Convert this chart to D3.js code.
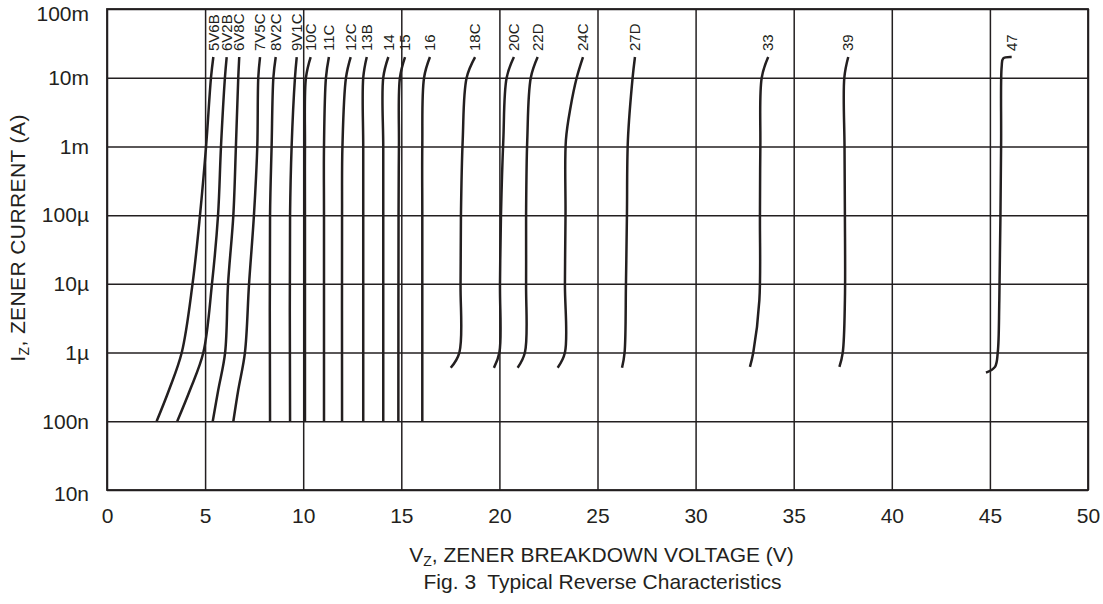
<!DOCTYPE html>
<html><head><meta charset="utf-8">
<script src="https://cdn.jsdelivr.net/npm/d3@7"></script>
<style>
html,body{margin:0;padding:0;background:#fff;}
svg{display:block;font-family:"Liberation Sans",Arial,Helvetica,sans-serif;}
</style></head><body>
<svg id="chart" width="1103" height="604"></svg>
<script>
// ---------- data ----------
const xTickValues = [0, 5, 10, 15, 20, 25, 30, 35, 40, 45, 50];
const xTickLabels = ["0", "5", "10", "15", "20", "25", "30", "35", "40", "45", "50"];
const yTickValues = [1e-8, 1e-7, 1e-6, 1e-5, 1e-4, 1e-3, 1e-2, 1e-1];
const yTickLabels = ["10n", "100n", "1\u00b5", "10\u00b5", "100\u00b5", "1m", "10m", "100m"];

const curveLabels = ["5V6B", "6V2B", "6V8C", "7V5C", "8V2C", "9V1C", "10C", "11C", "12C", "13B",
  "14", "15", "16", "18C", "20C", "22D", "24C", "27D", "33", "39", "47"];

// breakdown voltage (V) of each point, top of curve first
const curveVoltages = [
  [5.42, 5.30, 5.05, 4.74, 4.36, 3.81, 3.16, 2.53],
  [6.10, 6.01, 5.81, 5.66, 5.35, 4.91, 4.23, 3.58],
  [6.74, 6.69, 6.57, 6.44, 6.17, 6.02, 5.67, 5.39],
  [7.80, 7.71, 7.66, 7.49, 7.24, 7.03, 6.69, 6.44],
  [8.60, 8.48, 8.39, 8.31, 8.31],
  [9.67, 9.58, 9.41, 9.33, 9.33],
  [10.38, 10.14, 10.09, 10.09, 10.09],
  [11.31, 11.16, 11.06, 11.06, 11.06],
  [12.42, 12.18, 12.00, 11.98, 11.98],
  [13.24, 13.06, 13.06, 13.06, 13.06],
  [14.34, 14.08, 14.08, 14.08, 14.08],
  [15.19, 14.93, 14.88, 14.86, 14.85],
  [16.46, 16.16, 16.07, 16.07, 16.07],
  [18.76, 18.33, 18.13, 18.04, 18.02, 17.96, 17.52],
  [20.74, 20.37, 20.20, 20.08, 20.03, 20.00, 19.72],
  [21.95, 21.60, 21.42, 21.36, 21.36, 21.30, 20.93],
  [24.26, 23.94, 23.63, 23.39, 23.37, 23.34, 23.34, 22.97],
  [26.91, 26.79, 26.55, 26.50, 26.45, 26.38, 26.25],
  [33.70, 33.37, 33.30, 33.28, 33.25, 32.94, 32.77],
  [37.78, 37.58, 37.59, 37.61, 37.61, 37.50, 37.33],
  [46.11, 45.68, 45.60, 45.57, 45.48, 45.40, 45.26, 44.80]
];

// zener current (A) of each point
const curveCurrents = [
  [20e-3, 10e-3, 1e-3, 1e-4, 1e-5, 1e-6, 2.85e-7, 1e-7],
  [20e-3, 10e-3, 1e-3, 1e-4, 1e-5, 1e-6, 2.85e-7, 1e-7],
  [20e-3, 10e-3, 1e-3, 1e-4, 1e-5, 1e-6, 2.85e-7, 1e-7],
  [20e-3, 10e-3, 1e-3, 1e-4, 1e-5, 1e-6, 2.85e-7, 1e-7],
  [20e-3, 10e-3, 1e-3, 1e-4, 1e-7],
  [20e-3, 10e-3, 1e-3, 1e-4, 1e-7],
  [20e-3, 10e-3, 1e-3, 1e-4, 1e-7],
  [20e-3, 10e-3, 1e-3, 1e-4, 1e-7],
  [20e-3, 10e-3, 1e-3, 1e-4, 1e-7],
  [20e-3, 10e-3, 1e-3, 1e-4, 1e-7],
  [20e-3, 10e-3, 1e-3, 1e-4, 1e-7],
  [20e-3, 10e-3, 1e-3, 1e-4, 1e-7],
  [20e-3, 10e-3, 1e-3, 1e-4, 1e-7],
  [20e-3, 10e-3, 1.24e-3, 1e-4, 1e-5, 1e-6, 0.6e-6],
  [20e-3, 10e-3, 1.24e-3, 1e-4, 1e-5, 1e-6, 0.6e-6],
  [20e-3, 10e-3, 1.24e-3, 1e-4, 1e-5, 1e-6, 0.6e-6],
  [20e-3, 10e-3, 3.78e-3, 1.24e-3, 1e-4, 1e-5, 1e-6, 0.6e-6],
  [20e-3, 10e-3, 1.24e-3, 1e-4, 1e-5, 1e-6, 0.6e-6],
  [20e-3, 10e-3, 1e-3, 1e-4, 5.8e-6, 1e-6, 0.62e-6],
  [20e-3, 10e-3, 1e-3, 1e-4, 5.8e-6, 1e-6, 0.62e-6],
  [20e-3, 19.1e-3, 14.5e-3, 1e-3, 5.8e-6, 1e-6, 0.62e-6, 0.51e-6]
];

const xTitle = ["V", "Z", ", ZENER BREAKDOWN VOLTAGE (V)"];
const yTitle = ["I", "Z", ", ZENER CURRENT (A)"];
const caption = "Fig. 3  Typical Reverse Characteristics";

// ---------- layout ----------
const W = 1103, H = 604;
const margin = {top: 9, right: 15, bottom: 114, left: 107};
const iw = W - margin.left - margin.right;
const ih = H - margin.top - margin.bottom;
const ink = "#231f20";
const fs = 21;

const svg = d3.select("#chart");
svg.append("rect").attr("width", W).attr("height", H).attr("fill", "#fff");
const g = svg.append("g").attr("transform", `translate(${margin.left},${margin.top})`);

const x = d3.scaleLinear().domain([0, 50]).range([0, iw]);
const y = d3.scaleLog().domain([1e-8, 1e-1]).range([ih, 0]);

// x axis + vertical grid
const gx = g.append("g").attr("transform", `translate(0,${ih})`)
  .call(d3.axisBottom(x).tickValues(xTickValues).tickSizeInner(-ih).tickSizeOuter(0)
    .tickPadding(18).tickFormat((d, i) => xTickLabels[i]));
gx.select(".domain").remove();
gx.selectAll(".tick line").attr("stroke", ink).attr("stroke-width", 1.5);
gx.selectAll(".tick text").attr("font-size", fs).attr("fill", ink).attr("font-family", null);

// y axis + horizontal grid
const gy = g.append("g")
  .call(d3.axisLeft(y).tickValues(yTickValues).tickSizeInner(-iw).tickSizeOuter(0)
    .tickPadding(18).tickFormat((d, i) => yTickLabels[i]));
gy.select(".domain").remove();
gy.selectAll(".tick line").attr("stroke", ink).attr("stroke-width", 1.5);
gy.selectAll(".tick text").attr("font-size", fs).attr("fill", ink).attr("font-family", null)
  .attr("dy", (d, i) => (i === yTickValues.length - 1 ? "0.55em" : i === 0 ? "0.52em" : "0.32em"));

// frame
g.append("rect").attr("width", iw).attr("height", ih)
  .attr("fill", "none").attr("stroke", ink).attr("stroke-width", 1.8);

// curves
const line = d3.line()
  .x(d => x(d[0])).y(d => y(d[1]))
  .curve(d3.curveCatmullRom.alpha(0.5));

curveLabels.forEach((name, k) => {
  const pts = curveVoltages[k].map((v, j) => [v, curveCurrents[k][j]]);
  g.append("path").datum(pts)
    .attr("d", line)
    .attr("fill", "none").attr("stroke", ink).attr("stroke-width", 2.5)
    .attr("stroke-linecap", "butt").attr("stroke-linejoin", "round");
  g.append("text")
    .attr("transform", `translate(${x(pts[0][0])},${y(pts[0][1]) - 6}) rotate(-90)`)
    .attr("text-anchor", "start").attr("dy", "0.35em")
    .attr("font-size", 15).attr("fill", ink)
    .text(name);
});

// axis titles
const xt = svg.append("text").attr("x", margin.left + iw / 2 + 4).attr("y", 562)
  .attr("text-anchor", "middle").attr("font-size", fs).attr("fill", ink);
xt.append("tspan").text(xTitle[0]);
xt.append("tspan").attr("font-size", 14).attr("dy", 4).text(xTitle[1]);
xt.append("tspan").attr("dy", -4).text(xTitle[2]);

svg.append("text").attr("x", margin.left + iw / 2 + 5).attr("y", 589)
  .attr("text-anchor", "middle").attr("font-size", fs).attr("fill", ink)
  .attr("xml:space", "preserve").style("white-space", "pre")
  .text(caption);

const yt = svg.append("text")
  .attr("transform", `translate(25,238) rotate(-90)`)
  .attr("text-anchor", "middle").attr("font-size", fs).attr("fill", ink)
  .attr("letter-spacing", 0.4);
yt.append("tspan").text(yTitle[0]);
yt.append("tspan").attr("font-size", 14).attr("dy", 4).text(yTitle[1]);
yt.append("tspan").attr("dy", -4).text(yTitle[2]);
</script>
</body></html>
